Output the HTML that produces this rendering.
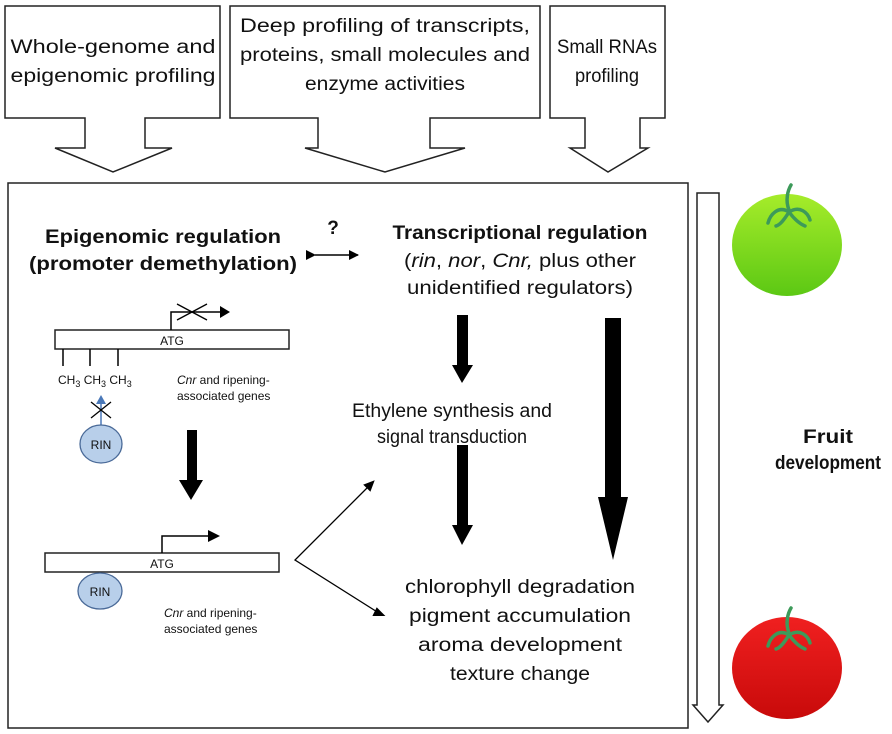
<!DOCTYPE html>
<html><head><meta charset="utf-8"><style>
html,body{margin:0;padding:0;background:#fff}
svg{display:block}
text{font-family:"Liberation Sans",sans-serif;fill:#111}
</style></head><body>
<svg width="892" height="734" viewBox="0 0 892 734" xmlns="http://www.w3.org/2000/svg">
<defs>
<linearGradient id="g" x1="0" y1="0" x2="0" y2="1"><stop offset="0" stop-color="#a6ec2a"/><stop offset="1" stop-color="#5cc814"/></linearGradient>
<linearGradient id="r" x1="0" y1="0" x2="0" y2="1"><stop offset="0" stop-color="#f02020"/><stop offset="1" stop-color="#c80a0a"/></linearGradient>
<marker id="ah" markerWidth="10" markerHeight="10" refX="9" refY="5" orient="auto" markerUnits="userSpaceOnUse"><path d="M0,0 L10,5 L0,10 Z" fill="#000"/></marker>
</defs>
<g fill="#fff" stroke="#222" stroke-width="1.5">
<path d="M5,6 H220 V118 H145 V148 H172 L113,172 L55,148 H85 V118 H5 Z"/>
<path d="M230,6 H540 V118 H430 V148 H465 L385,172 L305,148 H318 V118 H230 Z"/>
<path d="M550,6 H665 V118 H640 V148 H648 L608,172 L570,148 H585 V118 H550 Z"/>
<rect x="8" y="183" width="680" height="545"/>
<path d="M697,193 H719 V705 H723 L708,722 L693,705 H697 Z"/>
</g>
<g font-size="19" text-anchor="middle">
<text x="113" y="53" textLength="205" lengthAdjust="spacingAndGlyphs">Whole-genome and</text>
<text x="113" y="82" textLength="205" lengthAdjust="spacingAndGlyphs">epigenomic profiling</text>
<text x="385" y="32" textLength="290" lengthAdjust="spacingAndGlyphs">Deep profiling of transcripts,</text>
<text x="385" y="61" textLength="290" lengthAdjust="spacingAndGlyphs">proteins, small molecules and</text>
<text x="385" y="90" textLength="160" lengthAdjust="spacingAndGlyphs">enzyme activities</text>
<text x="607" y="53" textLength="100" lengthAdjust="spacingAndGlyphs">Small RNAs</text>
<text x="607" y="82" textLength="64" lengthAdjust="spacingAndGlyphs">profiling</text>
</g>
<g font-size="19" font-weight="bold" text-anchor="middle">
<text x="163" y="243" textLength="236" lengthAdjust="spacingAndGlyphs">Epigenomic regulation</text>
<text x="163" y="270" textLength="268" lengthAdjust="spacingAndGlyphs">(promoter demethylation)</text>
<text x="333" y="234">?</text>
<text x="520" y="239" textLength="255" lengthAdjust="spacingAndGlyphs">Transcriptional regulation</text>
<text x="828" y="443" textLength="50" lengthAdjust="spacingAndGlyphs">Fruit</text>
<text x="828" y="469" textLength="106" lengthAdjust="spacingAndGlyphs">development</text>
</g>
<line x1="315" y1="255" x2="358" y2="255" stroke="#000" stroke-width="1.5" marker-end="url(#ah)" marker-start="url(#ah)"/>
<g font-size="19" text-anchor="middle">
<text x="520" y="267" textLength="232" lengthAdjust="spacingAndGlyphs">(<tspan font-style="italic">rin</tspan>, <tspan font-style="italic">nor</tspan>, <tspan font-style="italic">Cnr,</tspan> plus other</text>
<text x="520" y="294" textLength="226" lengthAdjust="spacingAndGlyphs">unidentified regulators)</text>
<text x="452" y="417" textLength="200" lengthAdjust="spacingAndGlyphs">Ethylene synthesis and</text>
<text x="452" y="443" textLength="150" lengthAdjust="spacingAndGlyphs">signal transduction</text>
<text x="520" y="593" textLength="230" lengthAdjust="spacingAndGlyphs">chlorophyll degradation</text>
<text x="520" y="622" textLength="222" lengthAdjust="spacingAndGlyphs">pigment accumulation</text>
<text x="520" y="651" textLength="204" lengthAdjust="spacingAndGlyphs">aroma development</text>
<text x="520" y="680" textLength="140" lengthAdjust="spacingAndGlyphs">texture change</text>
</g>
<!-- black arrows -->
<path d="M457,315 H468 V365 H473 L462,383 L452,365 H457 Z" fill="#000"/>
<path d="M457,445 H468 V525 H473 L462,545 L452,525 H457 Z" fill="#000"/>
<path d="M605,318 H621 V497 H628 L613,560 L598,497 H605 Z" fill="#000"/>
<path d="M187,430 H197 V480 H203 L191,500 L179,480 H187 Z" fill="#000"/>
<!-- gene 1 -->
<rect x="55" y="330" width="234" height="19" fill="#fff" stroke="#222" stroke-width="1.5"/>
<text x="172" y="345" font-size="12" text-anchor="middle">ATG</text>
<path d="M171,330 V312 H222" fill="none" stroke="#000" stroke-width="1.5"/>
<path d="M220,306 L230,312 L220,318 Z" fill="#000"/>
<path d="M177,304 L207,320 M177,320 L207,304" stroke="#000" stroke-width="1.3"/>
<path d="M63,349 V366 M90,349 V366 M118,349 V366" stroke="#000" stroke-width="1.5"/>
<g font-size="12">
<text x="58" y="384">CH<tspan font-size="9" dy="3">3</tspan><tspan dy="-3"> CH</tspan><tspan font-size="9" dy="3">3</tspan><tspan dy="-3"> CH</tspan><tspan font-size="9" dy="3">3</tspan></text>
<text x="177" y="384"><tspan font-style="italic">Cnr</tspan> and ripening-</text>
<text x="177" y="400">associated genes</text>
<text x="164" y="617"><tspan font-style="italic">Cnr</tspan> and ripening-</text>
<text x="164" y="633">associated genes</text>
</g>
<line x1="101" y1="425" x2="101" y2="402" stroke="#4a78b8" stroke-width="1.5"/>
<path d="M96,404 L101,395 L106,404 Z" fill="#4a78b8"/>
<path d="M91,402 L111,418 M91,418 L111,402" stroke="#000" stroke-width="1.3"/>
<ellipse cx="101" cy="444" rx="21" ry="19" fill="#b8cfea" stroke="#4a6a98" stroke-width="1.3"/>
<text x="101" y="449" font-size="12" text-anchor="middle">RIN</text>
<!-- gene 2 -->
<rect x="45" y="553" width="234" height="19" fill="#fff" stroke="#222" stroke-width="1.5"/>
<text x="162" y="568" font-size="12" text-anchor="middle">ATG</text>
<path d="M162,553 V536 H210" fill="none" stroke="#000" stroke-width="1.5"/>
<path d="M208,530 L220,536 L208,542 Z" fill="#000"/>
<ellipse cx="100" cy="591" rx="22" ry="18" fill="#b8cfea" stroke="#4a6a98" stroke-width="1.3"/>
<text x="100" y="596" font-size="12" text-anchor="middle">RIN</text>
<path d="M372,483 L295,560 L382,615" fill="none" stroke="#000" stroke-width="1.3"/>
<path d="M365,485 L373,482 L370,490 Z" fill="#000" stroke="#000" stroke-width="2"/>
<path d="M374,615 L383,615 L377,609 Z" fill="#000" stroke="#000" stroke-width="2"/>
<!-- tomatoes -->
<ellipse cx="787" cy="245" rx="55" ry="51" fill="url(#g)"/>
<g stroke="#3d9a5a" stroke-width="3.5" fill="none" stroke-linecap="round">
<path d="M789,210 C785,200 788,190 791,185"/>
<path d="M789,212 C778,205 770,215 768,223"/>
<path d="M789,212 C800,205 808,213 810,220"/>
<path d="M789,212 C784,220 780,225 776,226"/>
<path d="M789,212 C795,220 800,224 805,226"/>
</g>
<ellipse cx="787" cy="668" rx="55" ry="51" fill="url(#r)"/>
<g stroke="#3d9a5a" stroke-width="3.5" fill="none" stroke-linecap="round">
<path d="M789,633 C785,623 788,613 791,608"/>
<path d="M789,635 C778,628 770,638 768,646"/>
<path d="M789,635 C800,628 808,636 810,643"/>
<path d="M789,635 C784,643 780,648 776,649"/>
<path d="M789,635 C795,643 800,647 805,649"/>
</g>
</svg>
</body></html>
